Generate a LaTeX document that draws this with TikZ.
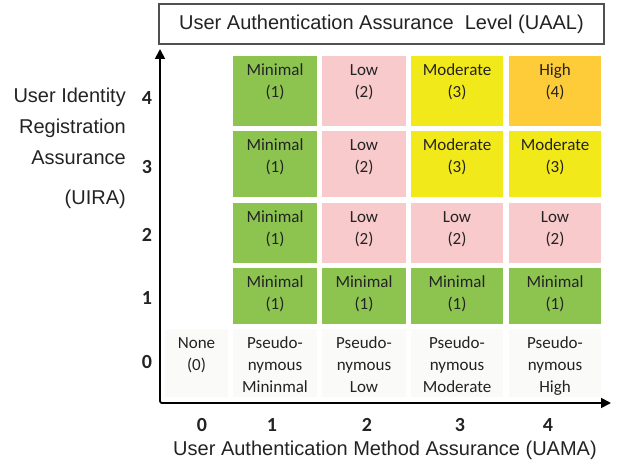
\documentclass[tikz,border=0pt]{standalone}
\usepackage{fontspec}
\setmainfont{Liberation Sans}
\newfontfamily\cellfont{Carlito}
\usetikzlibrary{arrows.meta,fit}
\definecolor{cgreen}{RGB}{141,196,80}
\definecolor{cpink}{RGB}{249,202,204}
\definecolor{cyellow}{RGB}{242,233,26}
\definecolor{corange}{RGB}{254,204,56}
\definecolor{cpale}{RGB}{250,250,248}
\definecolor{ctext}{RGB}{35,35,35}
\definecolor{cframe}{RGB}{80,80,80}
\tikzset{
  cellbg/.style={inner sep=0pt, draw=none},
  celltext/.style={anchor=north, inner sep=0pt, align=center, text=ctext,
    font=\cellfont\fontsize{17}{22}\selectfont},
  axisnum/.style={inner sep=0pt, font=\cellfont\bfseries\fontsize{20}{22}\selectfont, text=ctext},
  bigtext/.style={inner sep=0pt, font=\fontsize{20}{24}\selectfont, text=ctext},
  axisline/.style={line width=1.8pt, rounded corners=2pt},
}
\newcommand\mkcell[7]{%
  \node[cellbg, fill=#6, fit={(#2,#3) (#4,#5)}] (#1) {};
  \node[celltext, yshift=-4pt] (#1t) at (#1.north) {\strut #7};
}
\begin{document}
\begin{tikzpicture}[x=1pt,y=-1pt]
\useasboundingbox (0,0) rectangle (618,470);
% title
\node[draw=cframe, line width=1.2pt, minimum width=445pt, minimum height=40pt, inner sep=0pt,
  font=\fontsize{20}{24}\selectfont, text=ctext] (title) at (381.5,24) {User Authentication Assurance\ \ Level (UAAL)};
% cells row 4
\mkcell{c41}{233}{56}{317}{126}{cgreen}{Minimal\\(1)}
\mkcell{c42}{322}{56}{406}{126}{cpink}{Low\\(2)}
\mkcell{c43}{411}{56}{503}{126}{cyellow}{Moderate\\(3)}
\mkcell{c44}{509}{56}{601}{126}{corange}{High\\(4)}
% row 3
\mkcell{c31}{233}{131}{317}{197}{cgreen}{Minimal\\(1)}
\mkcell{c32}{322}{131}{406}{197}{cpink}{Low\\(2)}
\mkcell{c33}{411}{131}{503}{197}{cyellow}{Moderate\\(3)}
\mkcell{c34}{509}{131}{601}{197}{cyellow}{Moderate\\(3)}
% row 2
\mkcell{c21}{233}{203}{317}{263}{cgreen}{Minimal\\(1)}
\mkcell{c22}{322}{203}{406}{263}{cpink}{Low\\(2)}
\mkcell{c23}{411}{203}{503}{263}{cpink}{Low\\(2)}
\mkcell{c24}{509}{203}{601}{263}{cpink}{Low\\(2)}
% row 1
\mkcell{c11}{233}{268}{317}{324}{cgreen}{Minimal\\(1)}
\mkcell{c12}{322}{268}{406}{324}{cgreen}{Minimal\\(1)}
\mkcell{c13}{411}{268}{503}{324}{cgreen}{Minimal\\(1)}
\mkcell{c14}{509}{268}{601}{324}{cgreen}{Minimal\\(1)}
% row 0
\mkcell{c00}{165}{329}{228}{397}{cpale}{None\\(0)}
\mkcell{c01}{233}{329}{317}{397}{cpale}{Pseudo-\\nymous\\Mininmal}
\mkcell{c02}{322}{329}{406}{397}{cpale}{Pseudo-\\nymous\\Low}
\mkcell{c03}{411}{329}{503}{397}{cpale}{Pseudo-\\nymous\\Moderate}
\mkcell{c04}{509}{329}{601}{397}{cpale}{Pseudo-\\nymous\\High}
% axes
\coordinate (O) at (160,403);
\coordinate (ytip) at (160,49);
\coordinate (xtip) at (611,403);
\draw[axisline, {Triangle[length=10pt,width=10pt]}-{Triangle[length=10pt,width=10pt]}] (ytip) -- (O) -- (xtip);
% y numbers
\node[axisnum] (y4) at (147,98) {4};
\node[axisnum] (y3) at (147,167) {3};
\node[axisnum] (y2) at (147,235) {2};
\node[axisnum] (y1) at (147,298) {1};
\node[axisnum] (y0) at (147,362) {0};
% x numbers
\node[axisnum] (x0) at (202,425) {0};
\node[axisnum] (x1) at (272,425) {1};
\node[axisnum] (x2) at (367,425) {2};
\node[axisnum] (x3) at (460,425) {3};
\node[axisnum] (x4) at (548,425) {4};
% axis labels
\node[bigtext, anchor=east] (yl1) at (126,97) {User Identity};
\node[bigtext, anchor=east] (yl2) at (126,128) {Registration};
\node[bigtext, anchor=east] (yl3) at (126,158) {Assurance};
\node[bigtext, anchor=east] (yl4) at (126,199) {(UIRA)};
\node[bigtext] (xl) at (385,450) {User Authentication Method Assurance (UAMA)};
\end{tikzpicture}
\end{document}
